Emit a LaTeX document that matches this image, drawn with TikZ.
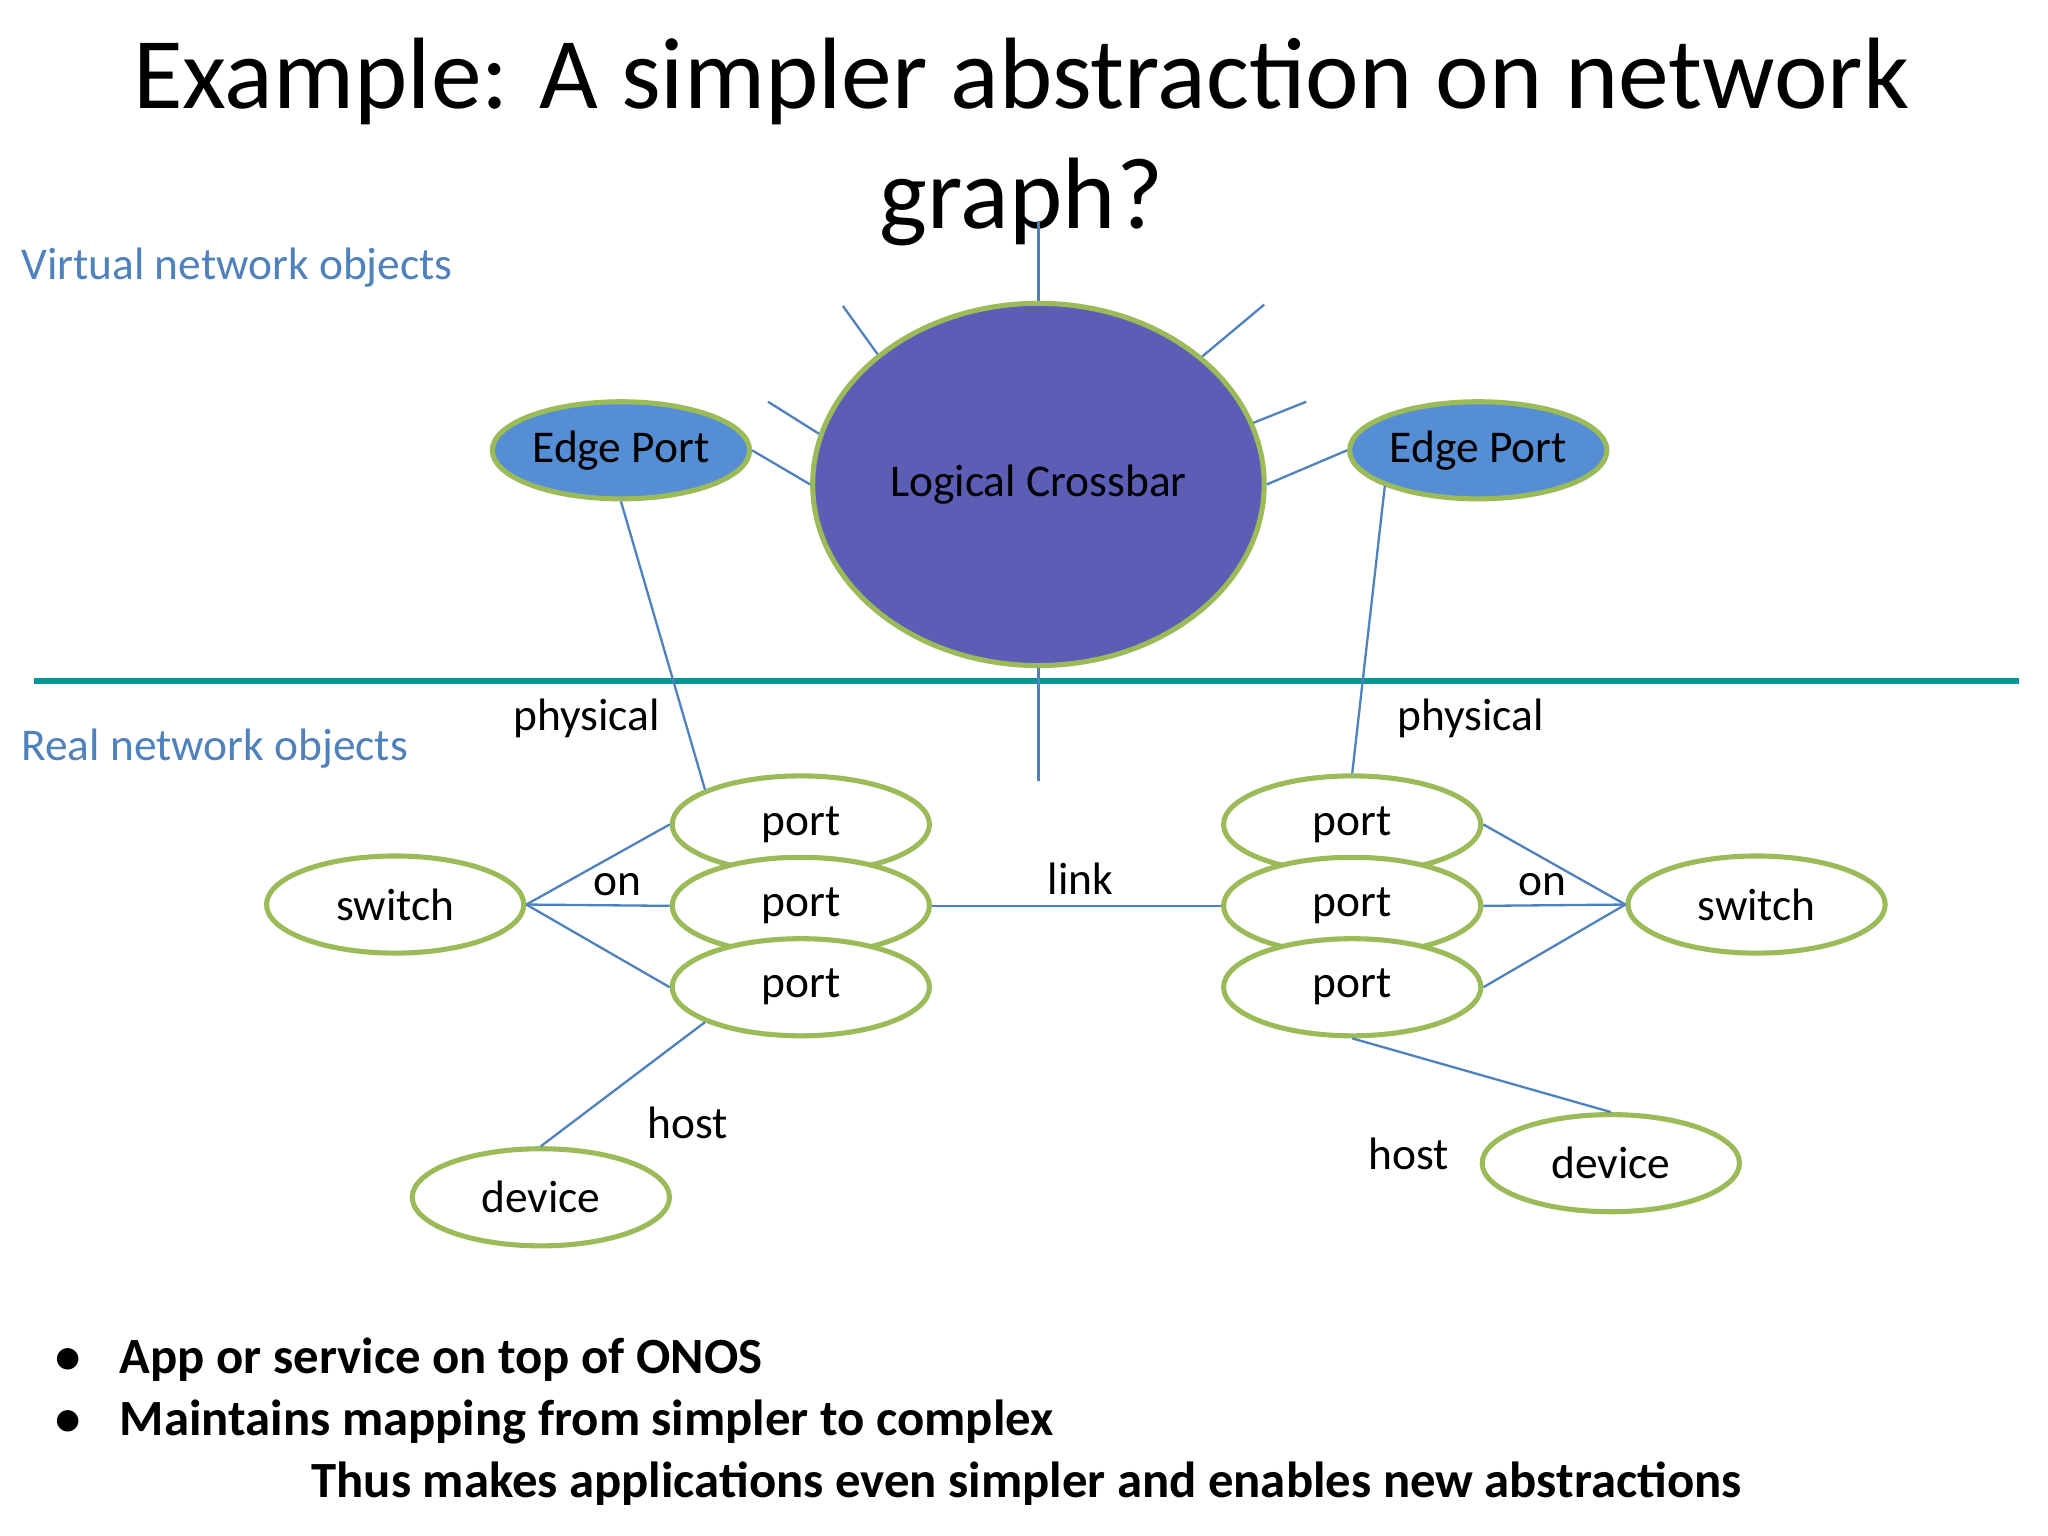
\documentclass[tikz,border=0pt]{standalone}
\usepackage{fontspec}
\setmainfont{Carlito}
\usetikzlibrary{shapes.geometric}
\definecolor{gb}{RGB}{155,187,89}
\definecolor{ln}{RGB}{79,129,189}
\definecolor{cbf}{RGB}{92,94,182}
\definecolor{epf}{RGB}{85,142,213}
\definecolor{teal}{RGB}{0,150,150}
\begin{document}
\begin{tikzpicture}[x=0.02cm,y=-0.02cm,
 el/.style={ellipse,draw=gb,line width=2.2pt,fill=white,minimum width=3.92cm,minimum height=1.48cm,inner sep=0pt,font=\fontsize{19.7}{23}\selectfont},
 ep/.style={el,fill=epf},
 con/.style={draw=ln,line width=1pt},
 lab/.style={font=\fontsize{19.7}{23}\selectfont},
 side/.style={font=\fontsize{19.7}{23}\selectfont,text=ln,anchor=west},
 bul/.style={font=\bfseries\fontsize{22}{26}\selectfont,anchor=west}]
\useasboundingbox (0,0) rectangle (1560,1170);
\node[font=\fontsize{44}{52}\selectfont,align=center] (title) at (778,108) {Example: A simpler abstraction on network\\graph?};
\node[side] (vn) at (10,204) {Virtual network objects};
\node[side] (rn) at (10,570) {Real network objects};
\draw[teal,line width=2.5pt] (26,519) -- (1538,519);
% spokes
\coordinate (s1) at (791,168); \coordinate (s2) at (642,233); \coordinate (s3) at (585,306);
\coordinate (s4) at (963,232); \coordinate (s5) at (995,306); \coordinate (s6) at (791,595);
\node[el,fill=cbf,minimum width=6.88cm,minimum height=5.52cm] (cb) at (791,369) {Logical Crossbar};
\draw[con] (s1) -- (cb.north); \draw[con] (s2) -- (cb.141.5); \draw[con] (s3) -- (cb.167);
\draw[con] (s4) -- (cb.38); \draw[con] (s5) -- (cb.16.6); \draw[con] (s6) -- (cb.south);
\node[ep] (e1) at (473,343) {Edge Port};
\node[ep] (e2) at (1126,343) {Edge Port};
\draw[con] (e1.east) -- (cb.west); \draw[con] (cb.east) -- (e2.west);
\node[el] (lp1) at (610,628) {port};
\node[el] (lp2) at (610,690) {port};
\node[el] (lp3) at (610,752) {port};
\node[el] (rp1) at (1030,628) {port};
\node[el] (rp2) at (1030,690) {port};
\node[el] (rp3) at (1030,752) {port};
\node[el] (sl) at (301,689) {switch};
\node[el] (sr) at (1338,689) {switch};
\node[el] (dl) at (412,912) {device};
\node[el] (dr) at (1227,886) {device};
\draw[con] (e1.south) -- (lp1.160);
\draw[con] (e2.201) -- (rp1.north);
\draw[con] (sl.east) -- (lp1.west); \draw[con] (sl.east) -- (lp2.west); \draw[con] (sl.east) -- (lp3.west);
\draw[con] (sr.west) -- (rp1.east); \draw[con] (sr.west) -- (rp2.east); \draw[con] (sr.west) -- (rp3.east);
\draw[con] (lp2.east) -- (rp2.west);
\draw[con] (lp3.200) -- (dl.north);
\draw[con] (rp3.south) -- (dr.north);
\node[lab] (ph1) at (447,547) {physical};
\node[lab] (ph2) at (1120,547) {physical};
\node[lab] (on1) at (470,674) {on};
\node[lab] (on2) at (1175,674) {on};
\node[lab] (lk) at (823,669) {link};
\node[lab] (h1) at (524,855) {host};
\node[lab] (h2) at (1073,879) {host};
\node[bul] (b1) at (36,1036) {•\hspace{17pt}App or service on top of ONOS};
\node[bul] (b2) at (36,1083) {•\hspace{17pt}Maintains mapping from simpler to complex};
\node[font=\bfseries\fontsize{22}{26}\selectfont] (b3) at (782,1130) {Thus makes applications even simpler and enables new abstractions};
\end{tikzpicture}
\end{document}
